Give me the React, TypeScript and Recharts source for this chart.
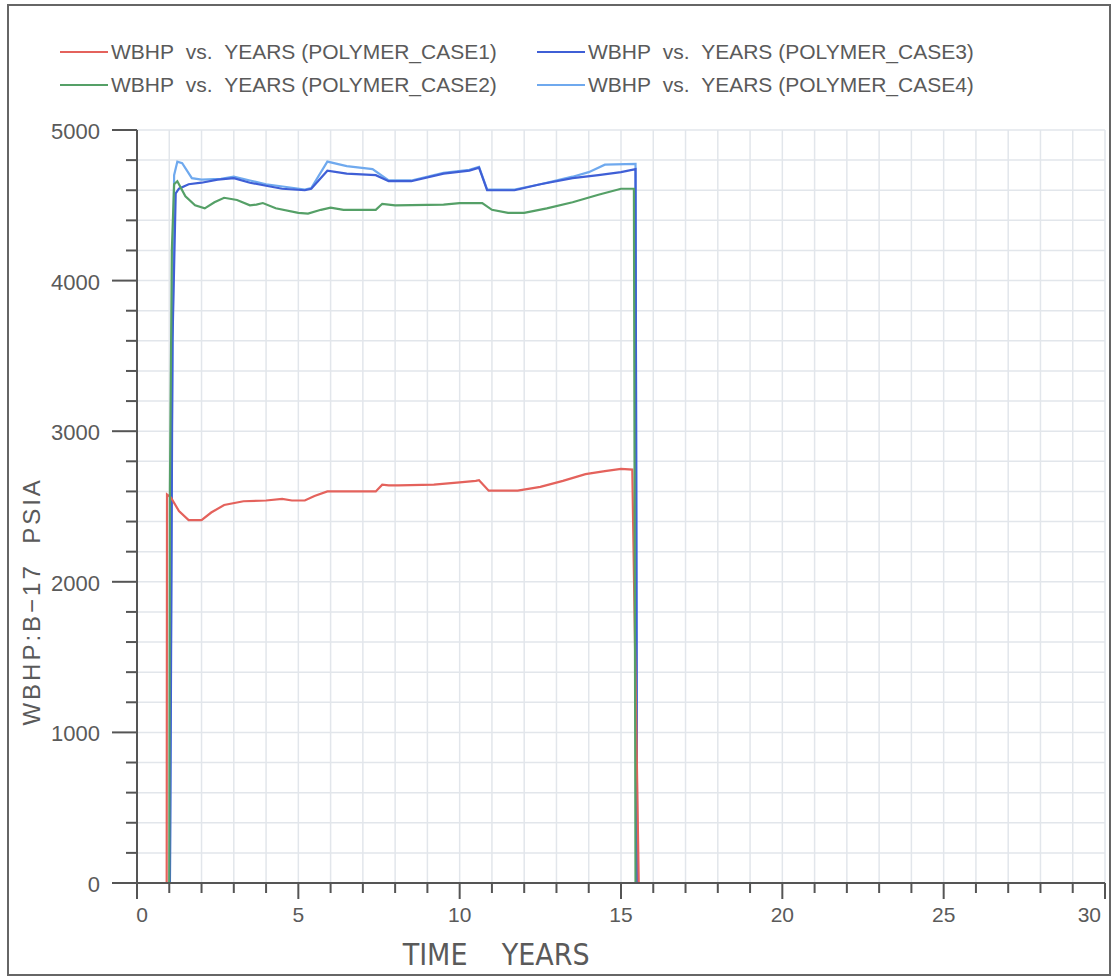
import { LineChart, Line, XAxis, YAxis, CartesianGrid, Legend } from "recharts";

// axis ticks (minor every year / every 200 psia)
const X_TICKS = [
  0, 1, 2, 3, 4, 5, 6, 7, 8, 9, 10, 11, 12, 13, 14, 15, 16, 17, 18, 19, 20,
  21, 22, 23, 24, 25, 26, 27, 28, 29, 30,
];
const Y_TICKS = [
  0, 200, 400, 600, 800, 1000, 1200, 1400, 1600, 1800, 2000, 2200, 2400, 2600,
  2800, 3000, 3200, 3400, 3600, 3800, 4000, 4200, 4400, 4600, 4800, 5000,
];

// [years, psia]
const CASE1: [number, number][] = [
  [0, 0], [0.92, 0], [0.93, 2580], [1.05, 2560], [1.3, 2470], [1.6, 2410],
  [2.0, 2410], [2.3, 2460], [2.7, 2510], [3.3, 2535], [4.0, 2540], [4.5, 2550],
  [4.8, 2540], [5.2, 2540], [5.5, 2570], [5.9, 2600], [7.4, 2600], [7.6, 2645],
  [7.8, 2640], [8.1, 2640], [9.2, 2645], [10.0, 2660], [10.5, 2670],
  [10.6, 2675], [10.9, 2605], [11.8, 2605], [12.5, 2630], [13.2, 2670],
  [13.9, 2715], [14.5, 2735], [15.0, 2750], [15.35, 2745], [15.55, 0], [25, 0],
];
const CASE2: [number, number][] = [
  [0, 0], [1.0, 0], [1.02, 2600], [1.08, 4200], [1.15, 4640], [1.25, 4660],
  [1.5, 4560], [1.8, 4500], [2.1, 4480], [2.4, 4520], [2.7, 4550], [3.1, 4535],
  [3.5, 4500], [3.7, 4505], [3.9, 4515], [4.3, 4480], [5.0, 4450], [5.3, 4445],
  [5.7, 4470], [6.0, 4485], [6.4, 4470], [7.4, 4470], [7.6, 4510], [8.0, 4500],
  [9.5, 4505], [10.0, 4515], [10.7, 4515], [11.0, 4470], [11.5, 4450],
  [12.0, 4450], [12.7, 4480], [13.5, 4520], [14.3, 4570], [15.0, 4610],
  [15.4, 4610], [15.45, 0], [25, 0],
];
const CASE3: [number, number][] = [
  [0, 0], [1.02, 0], [1.05, 1200], [1.1, 3600], [1.2, 4580], [1.3, 4610],
  [1.6, 4640], [2.0, 4650], [2.5, 4670], [3.0, 4680], [3.5, 4650], [4.0, 4630],
  [4.5, 4610], [5.2, 4600], [5.4, 4610], [5.9, 4730], [6.5, 4710], [7.4, 4700],
  [7.8, 4660], [8.5, 4660], [9.5, 4710], [10.3, 4730], [10.6, 4750],
  [10.85, 4600], [11.7, 4600], [12.5, 4640], [13.5, 4680], [14.3, 4700],
  [15.0, 4720], [15.45, 4740], [15.5, 0], [25, 0],
];
const CASE4: [number, number][] = [
  [0, 0], [1.02, 0], [1.08, 3000], [1.15, 4700], [1.25, 4790], [1.4, 4780],
  [1.7, 4680], [2.0, 4670], [2.6, 4675], [3.0, 4690], [3.5, 4665], [4.0, 4640],
  [5.2, 4605], [5.4, 4615], [5.9, 4790], [6.5, 4760], [7.3, 4740], [7.8, 4665],
  [8.5, 4665], [9.5, 4715], [10.3, 4735], [10.6, 4755], [10.85, 4605],
  [11.7, 4605], [12.5, 4640], [13.5, 4690], [14.0, 4720], [14.5, 4770],
  [15.45, 4775], [15.5, 0], [25, 0],
];

const RED = "#e4625c";
const GREEN = "#55a067";
const BLUE = "#3f5fd6";
const LIGHT_BLUE = "#6fa9ee";
const AXIS = "#555";
const GRID = "#e2e6eb";
const TEXT = "#5a5a5a";

const SERIES = [
  { name: "POLYMER_CASE1", color: RED, data: CASE1 },
  { name: "POLYMER_CASE2", color: GREEN, data: CASE2 },
  { name: "POLYMER_CASE3", color: BLUE, data: CASE3 },
  { name: "POLYMER_CASE4", color: LIGHT_BLUE, data: CASE4 },
];
// drawing order: light blue at the back, green on top
const DRAW_ORDER = [3, 2, 0, 1];

const toRows = (pts: [number, number][]) => pts.map(([t, p]) => ({ t, p }));

const SANS = "'Liberation Sans', Arial, sans-serif";
const NARROW = "'Liberation Sans Narrow', 'DejaVu Sans Condensed', sans-serif";

function XTick({ x, y, payload }: any) {
  const major = payload.value % 5 === 0;
  const last = payload.value === 30;
  const first = payload.value === 0;
  return (
    <g>
      <line x1={x} x2={x} y1={y} y2={y + (major ? 16 : 10)} stroke={AXIS} strokeWidth={2} />
      {major && (
        <text
          x={last ? x - 4 : first ? x + 5 : x}
          y={y + 39}
          textAnchor={last ? "end" : "middle"}
          fontSize={21}
          fontFamily={SANS}
          fill={TEXT}
        >
          {payload.value}
        </text>
      )}
    </g>
  );
}

function YTick({ x, y, payload }: any) {
  const major = payload.value % 1000 === 0;
  return (
    <g>
      <line x1={x - (major ? 25 : 11)} x2={x} y1={y} y2={y} stroke={AXIS} strokeWidth={2} />
      {major && (
        <text x={x - 37} y={y + 9} textAnchor="end" fontSize={22} fontFamily={SANS} fill={TEXT}>
          {payload.value}
        </text>
      )}
    </g>
  );
}

function XTitle({ viewBox }: any) {
  const { x, width } = viewBox;
  return (
    <text x={x + width * 0.371} y={965} textAnchor="middle" fontSize={30} fontFamily={NARROW} fill={TEXT}>
      {"TIME\u00A0\u00A0\u00A0\u00A0YEARS"}
    </text>
  );
}

function YTitle({ viewBox }: any) {
  const { y, height } = viewBox;
  const cx = 40;
  const cy = y + height * 0.626;
  return (
    <text
      x={cx}
      y={cy}
      transform={`rotate(-90, ${cx}, ${cy})`}
      textAnchor="middle"
      fontSize={24}
      letterSpacing={3}
      fontFamily={SANS}
      fill={TEXT}
    >
      {"WBHP:B\u221217\u00A0\u00A0PSIA"}
    </text>
  );
}

function LegendBox() {
  const cells = [
    { s: SERIES[0], left: 60, top: 52 },
    { s: SERIES[1], left: 60, top: 85 },
    { s: SERIES[2], left: 537, top: 52 },
    { s: SERIES[3], left: 537, top: 85 },
  ];
  return (
    <div style={{ position: "relative", width: 1114, height: 110 }}>
      {cells.map(({ s, left, top }) => (
        <div
          key={s.name}
          style={{
            position: "absolute",
            left,
            top: top - 14,
            height: 28,
            display: "flex",
            alignItems: "center",
            whiteSpace: "nowrap",
          }}
        >
          <span style={{ display: "inline-block", width: 48, height: 2, background: s.color, marginRight: 3 }} />
          <span style={{ fontFamily: SANS, fontSize: 21, color: TEXT, lineHeight: "28px" }}>
            {`WBHP\u00A0\u00A0vs.\u00A0\u00A0YEARS (${s.name})`}
          </span>
        </div>
      ))}
    </div>
  );
}

export default function App() {
  return (
    <div style={{ position: "absolute", left: 0, top: 0, width: 1114, height: 978, background: "#fff" }}>
      <div style={{ position: "absolute", left: 0, top: 0 }}>
        <LineChart width={1114} height={978} margin={{ top: 130, right: 9, bottom: 35, left: 37 }}>
          <CartesianGrid stroke={GRID} strokeWidth={1.5} />
          <XAxis
            type="number"
            dataKey="t"
            domain={[0, 30]}
            ticks={X_TICKS}
            interval={0}
            height={60}
            tickSize={0}
            tickMargin={0}
            tickLine={false}
            tick={<XTick />}
            axisLine={{ stroke: AXIS, strokeWidth: 2 }}
            label={<XTitle />}
          />
          <YAxis
            type="number"
            dataKey="p"
            domain={[0, 5000]}
            ticks={Y_TICKS}
            interval={0}
            width={100}
            tickSize={0}
            tickMargin={0}
            tickLine={false}
            tick={<YTick />}
            axisLine={{ stroke: AXIS, strokeWidth: 2 }}
            label={<YTitle />}
          />
          <Legend
            layout="horizontal"
            verticalAlign="middle"
            align="center"
            wrapperStyle={{ top: 0, left: 0, width: 1114, height: 110 }}
            content={() => <LegendBox />}
          />
          {DRAW_ORDER.map((i) => {
            const s = SERIES[i];
            return (
              <Line
                key={s.name}
                name={s.name}
                data={toRows(s.data)}
                dataKey="p"
                type="linear"
                stroke={s.color}
                strokeWidth={2.2}
                dot={false}
                activeDot={false}
                isAnimationActive={false}
              />
            );
          })}
        </LineChart>
      </div>
      <div
        style={{
          position: "absolute",
          left: 7,
          top: 4,
          width: 1100,
          height: 968,
          border: "2px solid #666",
          pointerEvents: "none",
        }}
      />
    </div>
  );
}
